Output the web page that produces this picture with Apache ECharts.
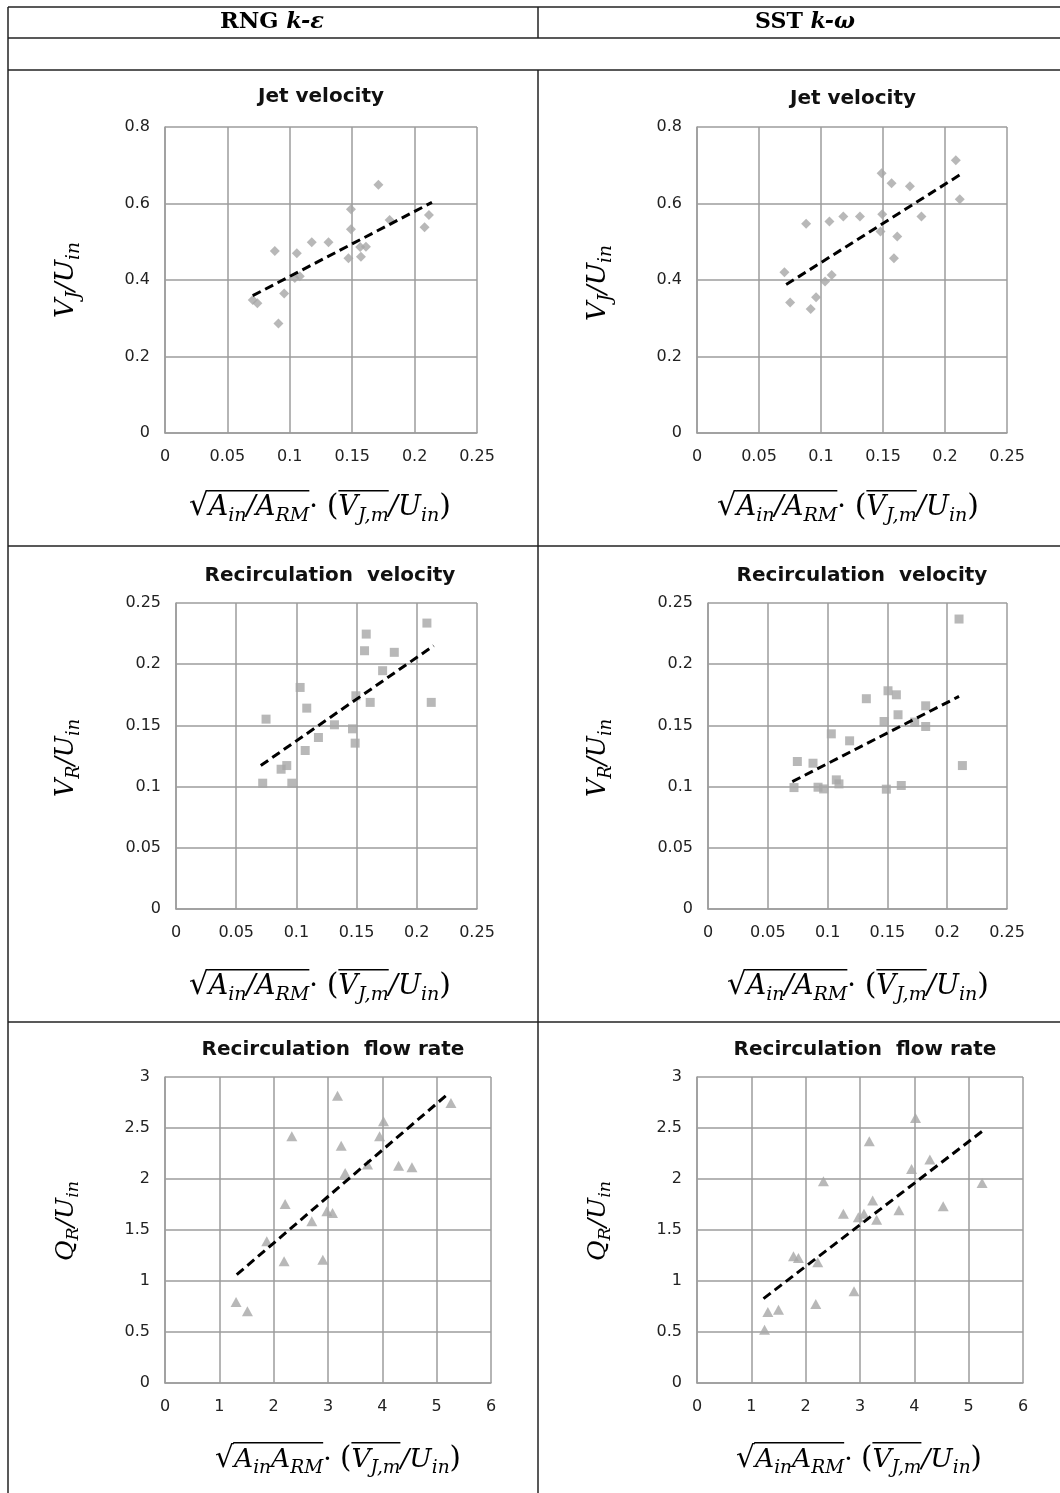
<!DOCTYPE html>
<html><head><meta charset="utf-8">
<script src="https://cdn.jsdelivr.net/npm/echarts/dist/echarts.min.js"></script>
<style>html,body{margin:0;padding:0;background:#fff}#c{width:1060px;height:1493px}</style>
</head><body><div id="c"></div>
<script>
// ---------------- DATA ----------------
const colHeaders = ['RNG', 'SST'];
const panelTitles = ['Jet velocity', 'Recirculation  velocity', 'Recirculation  flow rate'];

const jetRngX = [0.171, 0.149, 0.149, 0.180, 0.2115, 0.208, 0.088, 0.1056, 0.1176, 0.131, 0.147, 0.157, 0.1564, 0.161, 0.104, 0.108, 0.0955, 0.0703, 0.074, 0.0909];
const jetRngY = [0.649, 0.585, 0.533, 0.557, 0.570, 0.538, 0.476, 0.470, 0.499, 0.499, 0.457, 0.461, 0.486, 0.487, 0.405, 0.410, 0.365, 0.348, 0.339, 0.286];
const jetRngTrendX = [0.0703, 0.2139];
const jetRngTrendY = [0.359, 0.603];

const jetSstX = [0.2087, 0.1489, 0.1569, 0.1717, 0.2119, 0.088, 0.1068, 0.118, 0.1314, 0.1494, 0.181, 0.148, 0.1615, 0.1588, 0.0705, 0.1086, 0.1033, 0.096, 0.0751, 0.0917];
const jetSstY = [0.713, 0.679, 0.653, 0.645, 0.611, 0.547, 0.553, 0.566, 0.566, 0.572, 0.566, 0.527, 0.514, 0.457, 0.420, 0.413, 0.396, 0.355, 0.341, 0.324];
const jetSstTrendX = [0.0719, 0.214];
const jetSstTrendY = [0.388, 0.679];

const recVRngX = [0.2084, 0.158, 0.1566, 0.1813, 0.1716, 0.1031, 0.1494, 0.1613, 0.212, 0.1086, 0.0748, 0.1316, 0.1466, 0.1183, 0.1488, 0.1073, 0.092, 0.0873, 0.072, 0.0962];
const recVRngY = [0.2336, 0.2246, 0.211, 0.2097, 0.1947, 0.181, 0.1742, 0.1688, 0.1688, 0.1641, 0.1551, 0.1505, 0.1472, 0.1401, 0.1355, 0.1295, 0.1172, 0.1142, 0.1028, 0.1028];
const recVRngTrendX = [0.0704, 0.214];
const recVRngTrendY = [0.1172, 0.2151];

const recVSstX = [0.2099, 0.1505, 0.1575, 0.1324, 0.182, 0.1589, 0.1472, 0.1728, 0.182, 0.1031, 0.1184, 0.0747, 0.0878, 0.2127, 0.1073, 0.1095, 0.0719, 0.092, 0.0967, 0.1491, 0.1616];
const recVSstY = [0.2369, 0.1783, 0.175, 0.1718, 0.166, 0.1587, 0.1532, 0.1527, 0.1491, 0.1431, 0.1374, 0.1205, 0.1191, 0.1172, 0.1055, 0.1022, 0.0992, 0.0995, 0.0981, 0.0979, 0.1009];
const recVSstTrendX = [0.0705, 0.2099];
const recVSstTrendY = [0.1041, 0.1737];

const flowRngX = [3.175, 5.263, 4.022, 3.949, 2.334, 3.243, 3.728, 4.299, 4.545, 3.316, 2.211, 2.979, 3.083, 2.702, 1.873, 2.192, 2.905, 1.308, 1.517];
const flowRngY = [2.817, 2.745, 2.565, 2.418, 2.418, 2.327, 2.141, 2.131, 2.114, 2.059, 1.755, 1.683, 1.667, 1.585, 1.389, 1.193, 1.209, 0.794, 0.703];
const flowRngTrendX = [1.320, 5.177];
const flowRngTrendY = [1.062, 2.820];

const flowSstX = [4.022, 3.171, 4.286, 3.949, 2.327, 5.247, 3.233, 4.531, 3.716, 2.694, 2.969, 3.073, 3.306, 1.776, 1.867, 2.222, 2.890, 2.186, 1.304, 1.500, 1.243];
const flowSstY = [2.598, 2.369, 2.190, 2.098, 1.977, 1.961, 1.788, 1.732, 1.693, 1.660, 1.624, 1.660, 1.601, 1.242, 1.225, 1.183, 0.899, 0.775, 0.696, 0.719, 0.523];
const flowSstTrendX = [1.224, 5.247];
const flowSstTrendY = [0.827, 2.467];

const velXTicks = [0, 0.25, 0.05];   // min, max, interval
const jetYTicks = [0, 0.8, 0.2];
const recVYTicks = [0, 0.25, 0.05];
const flowXTicks = [0, 6, 1];
const flowYTicks = [0, 3, 0.5];

// ---------------- HELPERS ----------------
const zip = (a, b) => a.map((v, i) => [v, b[i]]);
const mctx = document.createElement('canvas').getContext('2d');
function metric(text, font) {
  mctx.font = font; mctx.textBaseline = 'alphabetic';
  return mctx.measureText(text);
}
function midOffset(font) {
  mctx.font = font; mctx.textBaseline = 'alphabetic';
  const a = mctx.measureText('H').actualBoundingBoxAscent;
  mctx.textBaseline = 'middle';
  const b = mctx.measureText('H').actualBoundingBoxAscent;
  mctx.textBaseline = 'alphabetic';
  return a - b;
}
// tokens: {t, k}  k: m = italic main, s = italic subscript, u = upright, p = paren, r = radical; o = overline group
function mathText(tokens, o) {
  const fam = o.fam || '"DejaVu Serif"';
  const bold = o.bold ? 'bold ' : '';
  const overH = o.overH || 0.92;
  const radAsc = metric('\u221A', bold + '100px ' + fam).actualBoundingBoxAscent / 100;
  function sizeOf(k, main) {
    if (k === 's') return main * (o.subRatio || 0.7);
    if (k === 'p') return main * 1.1;
    if (k === 'r') return main * overH / radAsc;
    return main;
  }
  function fontOf(tk, main) {
    const it = (tk.k === 'm' || tk.k === 's') ? 'italic ' : '';
    return it + bold + sizeOf(tk.k, main).toFixed(2) + 'px ' + fam;
  }
  function layout(main) {
    let x = 0; const items = [];
    for (const tk of tokens) {
      const f = fontOf(tk, main);
      const m = metric(tk.t, f);
      items.push({ tk, f, x, w: m.width, asc: m.actualBoundingBoxAscent, right: m.actualBoundingBoxRight });
      x += m.width;
    }
    return { items, W: x };
  }
  let main = o.main || 20;
  let L = layout(main);
  if (o.width) { main = main * o.width / L.W; L = layout(main); }
  const W = L.W;
  const color = o.color || '#000';
  const children = [];
  let radRight = null, radTop = null;
  const groups = {};
  for (const it of L.items) {
    const dy = it.tk.k === 's' ? 0.22 * main : 0;
    const x = it.x - W / 2;
    children.push({
      type: 'text', x: x, y: dy - midOffset(it.f),
      style: { text: it.tk.t, font: it.f, fill: color, textAlign: 'left', textVerticalAlign: 'middle' }
    });
    if (it.tk.k === 'r') { radRight = x + it.right; radTop = -it.asc; }
    if (it.tk.o) {
      const g = groups[it.tk.o] || (groups[it.tk.o] = { x1: x, x2: x + it.w });
      g.x2 = x + it.w;
    }
  }
  const lw = Math.max(1.2, main * 0.055);
  const oy = (radTop !== null ? radTop : -overH * main) + lw / 2;
  Object.keys(groups).forEach(k => {
    const g = groups[k];
    let x1 = g.x1;
    if (k === '1' && radRight !== null) x1 = radRight - lw * 0.6;
    children.push({ type: 'line', shape: { x1: x1, y1: oy, x2: g.x2, y2: oy }, style: { stroke: color, lineWidth: lw } });
  });
  return { type: 'group', x: o.x, y: o.y, rotation: o.rot || 0, children: children };
}

const xLabelDiv = [
  { t: '\u221A', k: 'r' }, { t: 'A', k: 'm', o: 1 }, { t: 'in', k: 's', o: 1 }, { t: '/', k: 'm', o: 1 },
  { t: 'A', k: 'm', o: 1 }, { t: 'RM', k: 's', o: 1 }, { t: '\u00B7', k: 'u' }, { t: ' ', k: 'u' },
  { t: '(', k: 'p' }, { t: 'V', k: 'm', o: 2 }, { t: 'J,m', k: 's', o: 2 }, { t: '/', k: 'm' },
  { t: 'U', k: 'm' }, { t: 'in', k: 's' }, { t: ')', k: 'p' }
];
const xLabelProd = [
  { t: '\u221A', k: 'r' }, { t: 'A', k: 'm', o: 1 }, { t: 'in', k: 's', o: 1 },
  { t: 'A', k: 'm', o: 1 }, { t: 'RM', k: 's', o: 1 }, { t: '\u00B7', k: 'u' }, { t: ' ', k: 'u' },
  { t: '(', k: 'p' }, { t: 'V', k: 'm', o: 2 }, { t: 'J,m', k: 's', o: 2 }, { t: '/', k: 'm' },
  { t: 'U', k: 'm' }, { t: 'in', k: 's' }, { t: ')', k: 'p' }
];
const yLab = (a, b) => [{ t: a, k: 'm' }, { t: b, k: 's' }, { t: '/', k: 'm' }, { t: 'U', k: 'm' }, { t: 'in', k: 's' }];

// ---------------- LAYOUT ----------------
const grids = [
  { left: 165, top: 127, width: 312, height: 306 },
  { left: 697, top: 127, width: 310, height: 306 },
  { left: 176, top: 603, width: 301, height: 306 },
  { left: 708, top: 603, width: 299, height: 306 },
  { left: 165, top: 1077, width: 326, height: 306 },
  { left: 697, top: 1077, width: 326, height: 306 }
];
const xTicks = [velXTicks, velXTicks, velXTicks, velXTicks, flowXTicks, flowXTicks];
const yTicks = [jetYTicks, jetYTicks, recVYTicks, recVYTicks, flowYTicks, flowYTicks];
const GRIDC = '#9c9c9c';
const axisBase = (i, t, isX) => ({
  gridIndex: i, type: 'value', min: t[0], max: t[1], interval: t[2],
  axisLine: { show: true, lineStyle: { color: GRIDC, width: 1.5 } },
  axisTick: { show: false },
  splitLine: { show: true, lineStyle: { color: GRIDC, width: 1.5 } },
  axisLabel: { color: '#222', fontSize: 16, fontFamily: '"DejaVu Sans"', margin: isX ? 16 : 15 }
});

const sets = [
  { x: jetRngX, y: jetRngY, tx: jetRngTrendX, ty: jetRngTrendY, sym: 'diamond', size: 10 },
  { x: jetSstX, y: jetSstY, tx: jetSstTrendX, ty: jetSstTrendY, sym: 'diamond', size: 10 },
  { x: recVRngX, y: recVRngY, tx: recVRngTrendX, ty: recVRngTrendY, sym: 'rect', size: 9 },
  { x: recVSstX, y: recVSstY, tx: recVSstTrendX, ty: recVSstTrendY, sym: 'rect', size: 9 },
  { x: flowRngX, y: flowRngY, tx: flowRngTrendX, ty: flowRngTrendY, sym: 'triangle', size: [11, 10] },
  { x: flowSstX, y: flowSstY, tx: flowSstTrendX, ty: flowSstTrendY, sym: 'triangle', size: [11, 10] }
];
const series = [];
sets.forEach((s, i) => {
  series.push({
    type: 'scatter', xAxisIndex: i, yAxisIndex: i, symbol: s.sym, symbolSize: s.size,
    itemStyle: { color: '#a6a6a6' }, data: zip(s.x, s.y), silent: true
  });
  series.push({
    type: 'line', xAxisIndex: i, yAxisIndex: i, data: zip(s.tx, s.ty), showSymbol: false, symbol: 'none',
    lineStyle: { color: '#000', width: 3, type: [9, 5] }, silent: true, z: 3
  });
});

// ---------------- GRAPHICS (table, titles, axis names) ----------------
const LC = '#222';
const hl = (y, x1, x2) => ({ type: 'line', shape: { x1: x1, y1: y, x2: x2, y2: y }, style: { stroke: LC, lineWidth: 1.5 } });
const vl = (x, y1, y2) => ({ type: 'line', shape: { x1: x, y1: y1, x2: x, y2: y2 }, style: { stroke: LC, lineWidth: 1.5 } });
const graphics = [
  hl(7, 8, 1060), hl(38, 8, 1060), hl(70, 8, 1060), hl(546, 8, 1060), hl(1022, 8, 1060),
  vl(8, 7, 1493), vl(538, 7, 38), vl(538, 70, 1493)
];
graphics.push(mathText([{ t: colHeaders[0] + ' ', k: 'u' }, { t: 'k-\u03B5', k: 'm' }], { x: 272, y: 28, width: 104, bold: true }));
graphics.push(mathText([{ t: colHeaders[1] + ' ', k: 'u' }, { t: 'k-\u03C9', k: 'm' }], { x: 805, y: 28, width: 100, bold: true }));
const titlePos = [[321, 97], [853, 99], [330, 576], [862, 576], [333, 1050], [865, 1050]];
titlePos.forEach((p, i) => {
  graphics.push({
    type: 'text', x: p[0], y: p[1],
    style: { text: panelTitles[Math.floor(i / 2)], font: 'bold 20px "DejaVu Sans"', fill: '#111', textAlign: 'center', textVerticalAlign: 'middle' }
  });
});
const xName = [[320, 515, xLabelDiv, 262], [848, 515, xLabelDiv, 262], [320, 994, xLabelDiv, 262], [858, 994, xLabelDiv, 262], [338, 1467, xLabelProd, 246], [859, 1467, xLabelProd, 246]];
xName.forEach(n => graphics.push(mathText(n[2], { x: n[0], y: n[1], width: n[3] })));
const yName = [[73, 280, yLab('V', 'J'), 76], [605, 283, yLab('V', 'J'), 76], [73, 758, yLab('V', 'R'), 78], [605, 758, yLab('V', 'R'), 78], [73, 1221, yLab('Q', 'R'), 80], [605, 1221, yLab('Q', 'R'), 80]];
yName.forEach(n => graphics.push(mathText(n[2], { x: n[0], y: n[1], width: n[3], rot: Math.PI / 2 })));

const chart = echarts.init(document.getElementById('c'), null, { renderer: 'canvas' });
chart.setOption({
  animation: false,
  backgroundColor: '#fff',
  grid: grids,
  xAxis: grids.map((g, i) => axisBase(i, xTicks[i], true)),
  yAxis: grids.map((g, i) => axisBase(i, yTicks[i], false)),
  series: series,
  graphic: { elements: graphics }
});
</script>
</body></html>
